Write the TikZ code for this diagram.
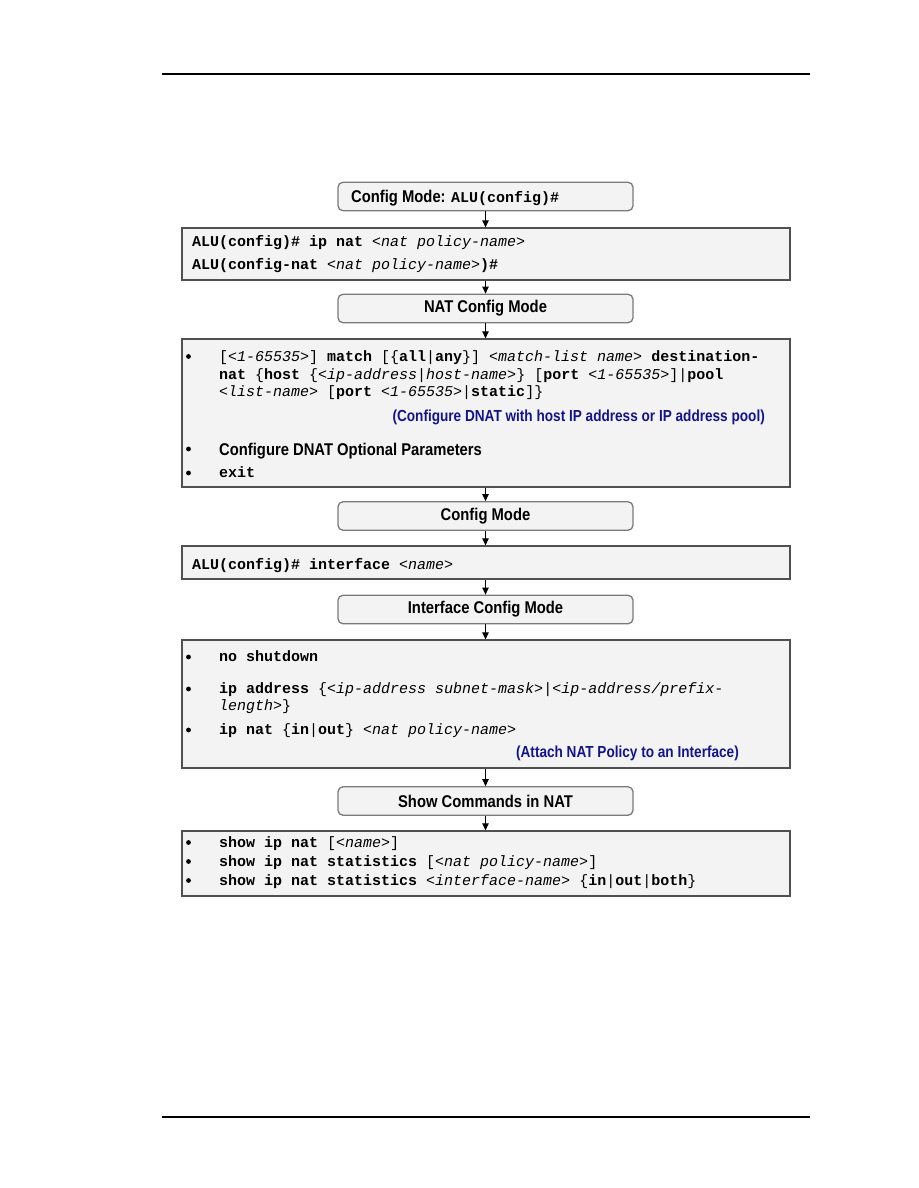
\documentclass[tikz,border=0pt]{standalone}
\usepackage{fontspec}
\setmainfont{Liberation Sans}
\newfontfamily\mono{Liberation Mono}
\newfontfamily\narrow[FakeStretch=0.87]{Liberation Sans}
\newfontfamily\narrowb[FakeStretch=0.85]{Liberation Sans}
\usetikzlibrary{arrows.meta}
\definecolor{boxfill}{HTML}{F3F3F3}
\definecolor{boxline}{HTML}{505050}
\definecolor{rline}{HTML}{7A7A7A}
\definecolor{navy}{HTML}{14148A}
\newcommand{\cb}[1]{\textbf{#1}}
\newcommand{\ci}[1]{\textit{#1}}
\tikzset{
  cmdbox/.style={draw=boxline, fill=boxfill, line width=1.3pt, inner sep=0pt},
  modebox/.style={draw=rline, fill=boxfill, line width=1.3pt, rounded corners=5pt, inner sep=0pt,
    minimum width=295pt, minimum height=28.5pt, font=\narrow\bfseries\fontsize{17}{17}\selectfont},
  mtext/.style={anchor=base west, inner sep=0pt, font=\mono\fontsize{15}{15}\selectfont},
  stext/.style={anchor=base west, inner sep=0pt, font=\narrow\bfseries\fontsize{17}{17}\selectfont},
  btext/.style={anchor=base east, inner sep=0pt, text=navy, font=\narrowb\bfseries\fontsize{16}{16}\selectfont},
  dot/.style={circle, fill=black, inner sep=0pt, minimum size=4.8pt},
  arr/.style={line width=1pt, -{Triangle[length=7pt,width=6.5pt]}},
  rule/.style={line width=1.2pt}
}
\begin{document}
\begin{tikzpicture}[x=1pt,y=-1pt]
\useasboundingbox (0,0) rectangle (918,1188);
% page rules
\coordinate (tl) at (162,74); \coordinate (tr) at (810,74);
\coordinate (bl) at (162,1117); \coordinate (br) at (810,1117);
\draw[rule] (tl) -- (tr);
\draw[rule] (bl) -- (br);

% Box 1
\node[modebox] (m1) at (485.5,196.5) {};
\node[stext] (m1t) at (351,202.5) {Config Mode: {\mono\fontsize{15}{15}\selectfont\cb{ALU(config)\#}}};

% Box 2
\node[cmdbox, minimum width=608pt, minimum height=52pt] (b2) at (486,254) {};
\node[mtext] (b2a) at (192,246.5) {\cb{ALU(config)\# ip nat} \ci{<nat policy-name>}};
\node[mtext] (b2b) at (192,269.5) {\cb{ALU(config-nat} \ci{<nat policy-name>}\cb{)\#}};

% Box 3
\node[modebox] (m2) at (485.5,308.5) {NAT Config Mode};

% Box 4
\node[cmdbox, minimum width=608pt, minimum height=148pt] (b4) at (486,413) {};
\node[dot] (d41) at (188.5,356.5) {};
\node[mtext] (b4a) at (219,361.5) {[\ci{<1-65535>}] \cb{match} [\{\cb{all}|\cb{any}\}] \ci{<match-list name>} \cb{destination-}};
\node[mtext] (b4b) at (219,379.5) {\cb{nat} \{\cb{host} \{\ci{<ip-address}|\ci{host-name>}\} [\cb{port} \ci{<1-65535>}]|\cb{pool}};
\node[mtext] (b4c) at (219,396.5) {\ci{<list-name>} [\cb{port} \ci{<1-65535>}|\cb{static}]\}};
\node[btext] (b4d) at (765,421.5) {(Configure DNAT with host IP address or IP address pool)};
\node[dot] (d42) at (188.5,449) {};
\node[stext] (b4e) at (219,455) {Configure DNAT Optional Parameters};
\node[dot] (d43) at (188.5,473) {};
\node[mtext] (b4f) at (219,477.5) {\cb{exit}};

% Box 5
\node[modebox] (m3) at (485.5,516) {Config Mode};

% Box 6
\node[cmdbox, minimum width=608pt, minimum height=33pt] (b6) at (486,562.5) {};
\node[mtext] (b6a) at (192,569.5) {\cb{ALU(config)\# interface} \ci{<name>}};

% Box 7
\node[modebox] (m4) at (485.5,609.5) {Interface Config Mode};

% Box 8
\node[cmdbox, minimum width=608pt, minimum height=128pt] (b8) at (486,704) {};
\node[dot] (d81) at (188.5,657) {};
\node[mtext] (b8a) at (219,661.5) {\cb{no shutdown}};
\node[dot] (d82) at (188.5,689) {};
\node[mtext] (b8b) at (219,693.5) {\cb{ip address} \{\ci{<ip-address subnet-mask>}|\ci{<ip-address/prefix-}};
\node[mtext] (b8c) at (219,710.5) {\ci{length>}\}};
\node[dot] (d83) at (188.5,730) {};
\node[mtext] (b8d) at (219,734.5) {\cb{ip nat} \{\cb{in}|\cb{out}\} \ci{<nat policy-name>}};
\node[btext] (b8e) at (739,757.5) {(Attach NAT Policy to an Interface)};

% Box 9
\node[modebox] (m5) at (485.5,801) {Show Commands in NAT};

% Box 10
\node[cmdbox, minimum width=608pt, minimum height=65pt] (b10) at (486,863.5) {};
\node[dot] (d101) at (188.5,842.5) {};
\node[mtext] (b10a) at (219,847) {\cb{show ip nat} [\ci{<name>}]};
\node[dot] (d102) at (188.5,861.5) {};
\node[mtext] (b10b) at (219,866) {\cb{show ip nat statistics} [\ci{<nat policy-name>}]};
\node[dot] (d103) at (188.5,880.5) {};
\node[mtext] (b10c) at (219,885) {\cb{show ip nat statistics} \ci{<interface-name>} \{\cb{in}|\cb{out}|\cb{both}\}};

% arrows
\draw[arr] (m1.south) -- (m1.south |- b2.north);
\draw[arr] (m1.south |- b2.south) -- (m2.north);
\draw[arr] (m2.south) -- (m2.south |- b4.north);
\draw[arr] (m2.south |- b4.south) -- (m3.north);
\draw[arr] (m3.south) -- (m3.south |- b6.north);
\draw[arr] (m3.south |- b6.south) -- (m4.north);
\draw[arr] (m4.south) -- (m4.south |- b8.north);
\draw[arr] (m4.south |- b8.south) -- (m5.north);
\draw[arr] (m5.south) -- (m5.south |- b10.north);
\end{tikzpicture}
\end{document}
